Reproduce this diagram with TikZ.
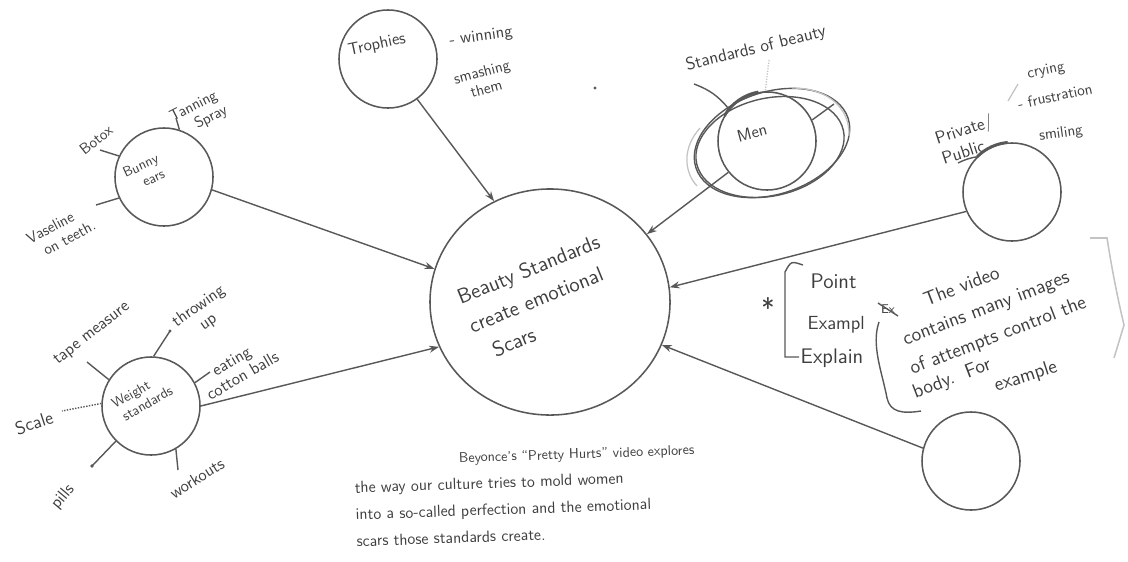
\documentclass[tikz,border=0pt]{standalone}
\usepackage{tikz}
\usetikzlibrary{arrows.meta, shapes.geometric}
\definecolor{pencil}{RGB}{88, 88, 88}
\definecolor{lead}{RGB}{62, 62, 62}
\definecolor{smudge}{RGB}{195, 195, 195}

\begin{document}
\begin{tikzpicture}[
  x=0.025cm, y=-0.025cm,
  bubble/.style={
    circle, draw=pencil, line width=1.1pt,
    minimum size=2.45cm, inner sep=0pt
  },
  hub/.style={
    ellipse, draw=pencil, line width=1.1pt,
    minimum width=6cm, minimum height=5.65cm
  },
  scrawl/.style={
    font=\sffamily\fontsize{11}{12.5}\selectfont,
    text=lead, inner sep=1pt, align=left
  },
  link/.style={-{Stealth[length=7pt, width=5pt]}, line width=1pt, pencil},
  spoke/.style={line width=1pt, pencil},
  faint/.style={line width=0.9pt, smudge}
]
\useasboundingbox (0,0) rectangle (1128,561);

% centre
\node[hub] (scars) at (550,302) {};
\node[scrawl, font=\sffamily\fontsize{15}{22}\selectfont, rotate=22]
  (scarstxt) at (540,298) {Beauty Standards\\create emotional\\\hspace{0.6em}Scars};

% bubbles
\node[bubble] (bunny)    at (164,177) {};
\node[bubble] (weight)   at (151,406) {};
\node[bubble] (trophies) at (388,59)  {};
\node[bubble] (men)      at (767,141) {};
\node[bubble] (blankr)   at (1012,192) {};
\node[bubble] (blankb)   at (971,461) {};

\draw[link] (bunny.-15)    -- (scars.164);
\draw[link] (weight.0)     -- (scars.202);
\draw[link] (trophies.-54) -- (scars.119);
\draw[link] (men.219)      -- (scars.35);
\draw[link] (blankr.203)   -- (scars.7);
\draw[link] (blankb.165)   -- (scars.-21);

% bunny ears
\node[scrawl, font=\sffamily\fontsize{10}{11.5}\selectfont, rotate=25]
  (bunnytxt) at (144,173) {Bunny\\\hspace{1em}ears};
\node[scrawl, rotate=38] (botox) at (96,140) {Botox};
\node[scrawl, rotate=27] (tanning) at (199,114) {Tanning\\\hspace{1.2em}Spray};
\node[scrawl, rotate=28] (vaseline) at (61,232) {Vaseline\\\hspace{0.6em}on teeth.};
\coordinate (botoxend) at (100,150);
\coordinate (tanend) at (176,118);
\coordinate (vasend) at (96,205);
\draw[spoke] (bunny.155) -- (botoxend);
\draw[spoke] (bunny.72) -- (tanend);
\draw[spoke] (bunny.205) -- (vasend);

% weight standards
\node[scrawl, font=\sffamily\fontsize{10}{11.5}\selectfont, rotate=30]
  (weighttxt) at (142,397) {Weight\\\hspace{0.2em}standards};
\node[scrawl, font=\sffamily\fontsize{12}{13}\selectfont, rotate=38]
  (tape) at (92,334) {tape measure};
\node[scrawl, font=\sffamily\fontsize{12}{13}\selectfont, rotate=35]
  (throwing) at (204,314) {throwing\\\hspace{1.2em}up};
\node[scrawl, font=\sffamily\fontsize{12}{13}\selectfont, rotate=30]
  (eating) at (238,368) {\hspace{1em}eating\\cotton balls};
\node[scrawl, font=\sffamily\fontsize{13}{14}\selectfont, rotate=18]
  (scale) at (34,423) {Scale};
\node[scrawl, font=\sffamily\fontsize{12}{13}\selectfont, rotate=50]
  (pills) at (63,497) {pills};
\node[scrawl, font=\sffamily\fontsize{12}{13}\selectfont, rotate=32]
  (workouts) at (197,478) {workouts};
\coordinate (tapeend) at (87,362);
\coordinate (throwend) at (170,331);
\coordinate (eatend) at (210,372);
\coordinate (scaleend) at (62,411);
\coordinate (pillsend) at (92,466);
\coordinate (workend) at (178,470);
\draw[spoke] (weight.148) -- (tapeend);
\draw[spoke] (weight.87) -- (throwend);
\draw[spoke] (weight.28) -- (eatend);
\draw[spoke, densely dotted] (weight.177) -- (scaleend);
\draw[spoke] (weight.225) -- (pillsend);
\draw[spoke] (weight.-60) -- (workend);
\fill[pencil] (pillsend) circle (1.3pt);
\fill[pencil] (throwend) circle (1.1pt);

% trophies
\node[scrawl, font=\sffamily\fontsize{12}{13}\selectfont, rotate=12]
  (trophtxt) at (377,45) {Trophies};
\node[scrawl, font=\sffamily\fontsize{12}{13}\selectfont, rotate=8]
  (winning) at (481,37) {- winning};
\node[scrawl, rotate=15, align=center] (smashing) at (484,80) {smashing\\them};
\fill[pencil] (595,88) circle (1.2pt);

% men
\node[scrawl, font=\sffamily\fontsize{12}{13}\selectfont, rotate=15]
  (mentxt) at (752,133) {Men};
\draw[spoke, rotate around={18:(772,143)}] (772,143) ellipse [x radius=2cm, y radius=1.28cm];
\draw[spoke, rotate around={13:(770,147)}] (770,147) ellipse [x radius=1.88cm, y radius=1.22cm];
\draw[pencil, line width=2pt] (men.100) arc[start angle=100, end angle=150, radius=1.225cm];
\draw[faint] (700,128) .. controls (682,148) and (684,172) .. (697,186);
\draw[faint] (792,88) .. controls (828,88) and (850,108) .. (849,136);
\node[scrawl, font=\sffamily\fontsize{12.5}{13}\selectfont, rotate=14]
  (beautystd) at (756,49) {Standards of beauty};
\coordinate (stdend) at (694,84);
\coordinate (mentick) at (834,104);
\coordinate (dotend) at (769,60);
\draw[spoke] (stdend) to[bend left=15] (men.140);
\draw[spoke] (men.25) -- (mentick);
\draw[faint, densely dotted] (dotend) -- (men.92);

% private / public
\node[scrawl, font=\sffamily\fontsize{12.5}{15}\selectfont, rotate=18]
  (private) at (967,139) {Private/\\Public};
\node[scrawl, rotate=12] (crying) at (1046,71) {crying};
\node[scrawl, rotate=12] (frustration) at (1055,96) {- frustration};
\node[scrawl, rotate=8] (smiling) at (1061,134) {smiling};
\coordinate (pubend) at (958,163);
\coordinate (cryend) at (1018,84);
\coordinate (privend) at (1008,101);
\draw[pencil, line width=2pt] (blankr.95) arc[start angle=95, end angle=135, radius=1.225cm];
\draw[spoke] (blankr.135) to[bend right=8] (pubend);
\draw[faint] (privend) -- (cryend);

% point / example / explain
\node[scrawl, font=\sffamily\fontsize{20}{20}\selectfont] (star) at (768,308) {*};
\draw[spoke] (803,265) .. controls (791,261) .. (785,272) -- (785,357) -- (799,357);
\node[scrawl, font=\sffamily\fontsize{15}{16}\selectfont, anchor=base west]
  (point) at (809,288) {Point};
\node[scrawl, font=\sffamily\fontsize{13.5}{15}\selectfont, anchor=base west]
  (exampl) at (806,329) {Exampl};
\node[scrawl, font=\sffamily\fontsize{15}{16}\selectfont, anchor=base west]
  (explain) at (799,363) {Explain};
\node[scrawl, font=\sffamily\fontsize{9}{10}\selectfont] (ex) at (888,309) {Ex};
\draw[spoke] (878,303) -- (898,316);
\draw[spoke] (879,322) .. controls (871,345) and (882,372) .. (887,398)
  .. controls (890,412) and (902,414) .. (921,411);
\node[scrawl, font=\sffamily\fontsize{14}{15}\selectfont, rotate=21, anchor=base west]
  (vid1) at (925,307) {The video};
\node[scrawl, font=\sffamily\fontsize{14}{15}\selectfont, rotate=21, anchor=base west]
  (vid2) at (904,346) {contains many images};
\node[scrawl, font=\sffamily\fontsize{14}{15}\selectfont, rotate=21, anchor=base west]
  (vid3) at (911,375) {of attempts control the};
\node[scrawl, font=\sffamily\fontsize{14}{15}\selectfont, rotate=21, anchor=base west]
  (vid4) at (914,399) {body.\ \ For};
\node[scrawl, font=\sffamily\fontsize{14}{15}\selectfont, rotate=18, anchor=base west]
  (vid5) at (995,392) {example};
\draw[faint, line width=1.1pt] (1090,238) -- (1107,238) .. controls (1112,270) and (1118,300) .. (1124,325) -- (1114,358);

% thesis
\node[scrawl, font=\sffamily\fontsize{11.5}{19}\selectfont, rotate=2, anchor=north west]
  (thesis) at (352,455)
  {\hspace{6.5em}{\fontsize{10}{19}\selectfont Beyonce's ``Pretty Hurts'' video explores}\\
   the way our culture tries to mold women\\
   into a so-called perfection and the emotional\\
   scars those standards create.};

\end{tikzpicture}
\end{document}
